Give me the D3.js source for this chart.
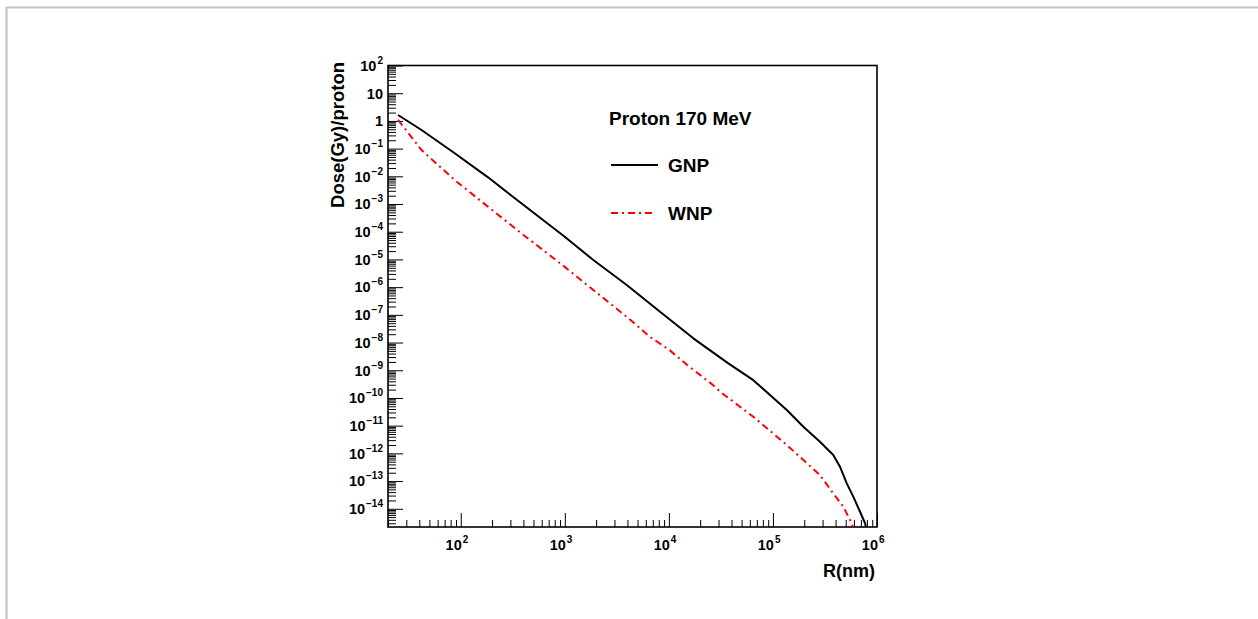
<!DOCTYPE html>
<html>
<head>
<meta charset="utf-8">
<script src="https://cdn.jsdelivr.net/npm/d3@7"></script>
<style>
  body { margin: 0; background: #fff; }
  svg { display: block; }
  text { font-family: "Liberation Sans", Arial, Helvetica, sans-serif; font-weight: bold; fill: #000; }
</style>
</head>
<body>
<svg id="chart" width="1258" height="619"></svg>
<script>
// data (R in nm, dose in Gy per proton)
var gnpR    = [25, 42, 87.5, 183, 382, 998, 1880, 3936, 8225, 17180, 37250, 64770, 93700,
               1.36e5, 1.96e5, 2.83e5, 3.80e5, 4.41e5, 5.12e5, 5.93e5, 6.87e5, 7.68e5, 8.0e5];
var gnpDose = [1.63, 0.47, 0.068, 9.2e-3, 1.06e-3, 6.6e-5, 9.5e-6, 1.19e-6, 1.29e-7, 1.42e-8, 1.77e-9, 4.4e-10, 1.27e-10,
               3.66e-11, 9.1e-12, 2.62e-12, 8.7e-13, 3.3e-13, 8.3e-14, 2.7e-14, 7.8e-15, 3.0e-15, 1.5e-15];
var wnpR    = [25, 42, 87.5, 183, 382, 998, 1880, 3936, 6590, 10000, 15000, 26700, 31000, 64700,
               1.36e5, 2.83e5, 3.80e5, 4.75e5, 5.71e5, 6.0e5];
var wnpDose = [1.08, 0.089, 7.3e-3, 8.0e-4, 8.8e-5, 5.4e-6, 7.9e-7, 8.5e-8, 1.6e-8, 5.6e-9, 1.55e-9, 2.9e-10, 1.7e-10, 2.1e-11,
               2.0e-12, 1.65e-13, 3.6e-14, 1.18e-14, 3.0e-15, 1.5e-15];

var xExponents = [2, 3, 4, 5, 6];
var yExponents = [2, 1, 0, -1, -2, -3, -4, -5, -6, -7, -8, -9, -10, -11, -12, -13, -14];
var seriesNames = ["GNP", "WNP"];
var legendTitle = "Proton 170 MeV";
var xTitle = "R(nm)";
var yTitle = "Dose(Gy)/proton";

var svg = d3.select("#chart");
var frame = {left: 388, right: 877, top: 65.5, bottom: 527};

var x = d3.scaleLog().domain([20, 1e6]).range([frame.left, frame.right]);
var y = d3.scaleLog().domain([2.2e-15, 100]).range([frame.bottom, frame.top]);

// page border (gray, top + left)
svg.append("line").attr("x1", 6).attr("y1", 7.5).attr("x2", 1258).attr("y2", 7.5)
   .style("stroke", "#c0c0c0").style("stroke-width", 2);
svg.append("line").attr("x1", 6.5).attr("y1", 7).attr("x2", 6.5).attr("y2", 619)
   .style("stroke", "#c0c0c0").style("stroke-width", 2);

// minor tick values
function minorTicks(lo, hi, scale) {
  var out = [];
  for (var e = lo; e <= hi; e++) {
    for (var k = 2; k <= 9; k++) {
      var v = k * Math.pow(10, e);
      var d = scale.domain();
      if (v >= d[0] && v <= d[1]) out.push(v);
    }
  }
  return out;
}
var xMajor = [100, 1000, 1e4, 1e5, 1e6];
var xMinor = minorTicks(1, 5, x);
var yMajor = yExponents.map(function(e) { return Math.pow(10, e); });
var yMinor = minorTicks(-15, 1, y);

// x ticks (inside, pointing up)
var gx = svg.append("g").attr("transform", "translate(0," + frame.bottom + ")");
gx.append("g").call(d3.axisBottom(x).tickValues(xMajor).tickSize(-14).tickFormat(""));
gx.append("g").call(d3.axisBottom(x).tickValues(xMinor).tickSize(-7).tickFormat(""));
gx.selectAll(".domain").remove();

// y ticks (inside, pointing right)
var gy = svg.append("g").attr("transform", "translate(" + frame.left + ",0)");
gy.append("g").call(d3.axisLeft(y).tickValues(yMajor).tickSize(-15).tickFormat(""));
gy.append("g").call(d3.axisLeft(y).tickValues(yMinor).tickSize(-8).tickFormat(""));
gy.selectAll(".domain").remove();
svg.selectAll(".tick line").style("stroke", "#000").style("stroke-width", 1);

// frame
svg.append("rect").attr("x", frame.left).attr("y", frame.top)
   .attr("width", frame.right - frame.left).attr("height", frame.bottom - frame.top)
   .style("fill", "none").style("stroke", "#000").style("stroke-width", 1.6);

// x tick labels: "10" ends at the tick, exponent after it
xExponents.forEach(function(e) {
  var tx = x(Math.pow(10, e));
  svg.append("text").attr("x", tx + 1).attr("y", 550).text("10")
     .style("font-size", "14.5px").style("text-anchor", "end");
  svg.append("text").attr("x", tx + 2).attr("y", 543).text(String(e))
     .style("font-size", "10px").style("text-anchor", "start");
});

// y tick labels
yExponents.forEach(function(e) {
  var ty = y(Math.pow(10, e));
  if (e === 0 || e === 1) {
    svg.append("text").attr("x", 383).attr("y", ty + 5.3).text(e === 0 ? "1" : "10")
       .style("font-size", "14.5px").style("text-anchor", "end");
  } else {
    var sup = (e < 0 ? "\u2212" + (-e) : String(e));
    var t = svg.append("text").attr("x", 383).attr("y", ty + 5.3)
       .style("font-size", "14.5px").style("text-anchor", "end");
    t.append("tspan").text("10");
    t.append("tspan").attr("dy", -7).attr("dx", 1).style("font-size", "10px").text(sup);
  }
});

// axis titles
svg.append("text").attr("x", 875).attr("y", 577).text(xTitle)
   .style("font-size", "18px").style("text-anchor", "end");
svg.append("text").attr("transform", "translate(344,62) rotate(-90)").text(yTitle)
   .style("font-size", "18.5px").style("text-anchor", "end");

// curves
svg.append("clipPath").attr("id", "frameClip").append("rect")
   .attr("x", frame.left).attr("y", frame.top)
   .attr("width", frame.right - frame.left).attr("height", frame.bottom - frame.top);

var line = d3.line().x(function(d) { return x(d[0]); }).y(function(d) { return y(d[1]); });
var gnp = d3.zip(gnpR, gnpDose);
var wnp = d3.zip(wnpR, wnpDose);

var plot = svg.append("g").attr("clip-path", "url(#frameClip)");
plot.append("path").datum(gnp).attr("d", line)
    .style("fill", "none").style("stroke", "#000").style("stroke-width", 2).style("stroke-linejoin", "round");
plot.append("path").datum(wnp).attr("d", line)
    .style("fill", "none").style("stroke", "#ff0000").style("stroke-width", 2)
    .style("stroke-dasharray", "7,4,2,4");

// legend
svg.append("text").attr("x", 609).attr("y", 125).text(legendTitle).style("font-size", "19px");
svg.append("line").attr("x1", 611).attr("y1", 165).attr("x2", 658).attr("y2", 165)
   .style("stroke", "#000").style("stroke-width", 2);
svg.append("text").attr("x", 668).attr("y", 171.5).text(seriesNames[0]).style("font-size", "19px");
svg.append("line").attr("x1", 611).attr("y1", 213).attr("x2", 656).attr("y2", 213)
   .style("stroke", "#ff0000").style("stroke-width", 2).style("stroke-dasharray", "7,4,2,4");
svg.append("text").attr("x", 668).attr("y", 219.5).text(seriesNames[1]).style("font-size", "19px");
</script>
</body>
</html>
